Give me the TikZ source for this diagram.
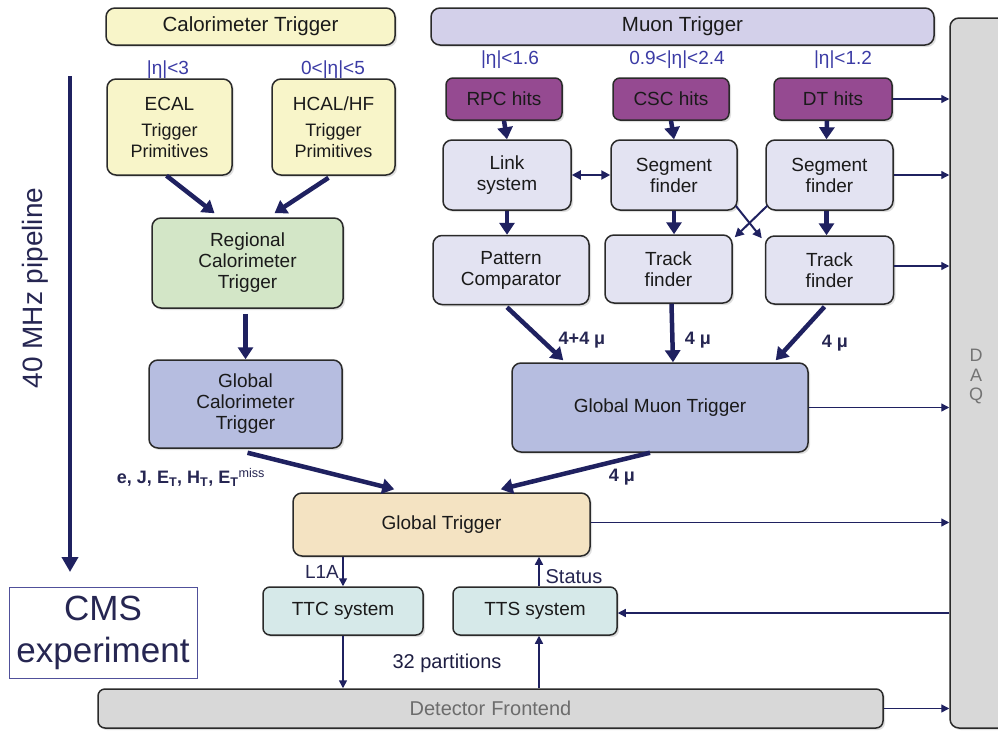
\documentclass[tikz,border=0pt]{standalone}
\usepackage{fontspec}
\setmainfont{Liberation Sans}
\usetikzlibrary{arrows.meta,shadows,calc}
\definecolor{calyel}{HTML}{F8F5C9}
\definecolor{muhdr}{HTML}{D3D0EA}
\definecolor{hitpur}{HTML}{954A91}
\definecolor{mulight}{HTML}{E3E3F2}
\definecolor{rctgreen}{HTML}{D3E6C7}
\definecolor{globblue}{HTML}{B6BDE0}
\definecolor{gtorange}{HTML}{F4E3C2}
\definecolor{ttccyan}{HTML}{D6E9E9}
\definecolor{daqgray}{HTML}{D8D8D8}
\definecolor{arrowc}{HTML}{1F2160}
\definecolor{etablue}{HTML}{3B3BA5}
\definecolor{labnavy}{HTML}{262652}
\definecolor{boxborder}{HTML}{2A2A2A}
\definecolor{txtdark}{HTML}{1A1A1A}
\newcommand\fsbox{\fontsize{19}{21}\selectfont}
\newcommand\fstp{\fontsize{18}{20.5}\selectfont}
\begin{document}
\begin{tikzpicture}[x=1pt,y=-1pt,
  box/.style={draw=boxborder, line width=1.5pt, rounded corners=9pt, align=center,
    inner sep=0pt, font=\fsbox, text=txtdark,
    drop shadow={shadow xshift=2pt, shadow yshift=-2pt, opacity=0.25}},
  fat/.style={-{Triangle[length=12pt,width=15pt]}, line width=4.5pt, draw=arrowc},
  thin/.style={-{Triangle[length=8pt,width=8pt]}, line width=1.3pt, draw=arrowc},
  mid/.style={-{Triangle[length=9pt,width=9pt]}, line width=2pt, draw=arrowc},
  etalbl/.style={text=etablue, font=\fontsize{19}{21}\selectfont},
  mulbl/.style={text=labnavy, font=\bfseries\fontsize{18}{20}\selectfont},
  plain/.style={text=labnavy, font=\fontsize{19}{21}\selectfont}
]
\useasboundingbox (0,0) rectangle (998,731);
\fill[white] (0,0) rectangle (998,731);

% headers
\node[box, fill=calyel, minimum width=289pt, minimum height=37pt, font=\fontsize{20.5}{22}\selectfont] (calhdr) at (250.5,26.5) {Calorimeter Trigger};
\node[box, fill=muhdr, minimum width=503pt, minimum height=37pt, font=\fontsize{20.5}{22}\selectfont] (muhdr) at (682.5,26.5) {Muon Trigger};

% DAQ
\node[box, fill=daqgray, minimum width=62pt, minimum height=710pt] (daq) at (981,373) {};
\node[text=gray!90!black, align=center, font=\fontsize{18}{19.5}\selectfont] (daqlbl) at (976,377) {D\\A\\Q};

% eta labels
\node[etalbl] (eta1) at (168,70) {|η|<3};
\node[etalbl] (eta2) at (333,70) {0<|η|<5};
\node[etalbl] (eta3) at (510,60) {|η|<1.6};
\node[etalbl] (eta4) at (677,60) {0.9<|η|<2.4};
\node[etalbl] (eta5) at (843,60) {|η|<1.2};

% calorimeter
\node[box, fill=calyel, minimum width=125pt, minimum height=96pt] (ecal) at (169.5,127)
  {ECAL\\[5pt]\fstp Trigger\\\fstp Primitives};
\node[box, fill=calyel, minimum width=123pt, minimum height=96pt] (hcal) at (333.5,127)
  {HCAL/HF\\[5pt]\fstp Trigger\\\fstp Primitives};
\node[box, fill=rctgreen, minimum width=191pt, minimum height=90pt] (rct) at (247.5,263)
  {Regional\\Calorimeter\\Trigger};
\node[box, fill=globblue, minimum width=193pt, minimum height=88pt] (gct) at (245.5,404)
  {Global\\Calorimeter\\Trigger};

% muon
\node[box, fill=hitpur, minimum width=116pt, minimum height=42pt, rounded corners=7pt] (rpc) at (504,99) {RPC hits};
\node[box, fill=hitpur, minimum width=116pt, minimum height=42pt, rounded corners=7pt] (csc) at (671,99) {CSC hits};
\node[box, fill=hitpur, minimum width=118pt, minimum height=42pt, rounded corners=7pt] (dt) at (833,99) {DT hits};
\node[box, fill=mulight, minimum width=128pt, minimum height=70pt] (link) at (507,175) {Link\\system};
\node[box, fill=mulight, minimum width=126pt, minimum height=70pt] (sf1) at (674,175) {Segment\\finder};
\node[box, fill=mulight, minimum width=127pt, minimum height=70pt] (sf2) at (829.5,175) {Segment\\finder};
\node[box, fill=mulight, minimum width=156pt, minimum height=69pt] (pc) at (511,270) {Pattern\\Comparator};
\node[box, fill=mulight, minimum width=127pt, minimum height=68pt] (tf1) at (668.5,269) {Track\\finder};
\node[box, fill=mulight, minimum width=128pt, minimum height=68pt] (tf2) at (829.5,270) {Track\\finder};
\node[box, fill=globblue, minimum width=296pt, minimum height=89pt] (gmt) at (660,407.5) {Global Muon Trigger};

% global trigger and below
\node[box, fill=gtorange, minimum width=297pt, minimum height=63pt] (gt) at (441.5,524.5) {Global Trigger};
\node[box, fill=ttccyan, minimum width=160pt, minimum height=48pt, rounded corners=7pt] (ttc) at (343,611) {TTC system};
\node[box, fill=ttccyan, minimum width=164pt, minimum height=48pt, rounded corners=7pt] (tts) at (535,611) {TTS system};
\node[box, fill=daqgray, minimum width=785pt, minimum height=39pt, rounded corners=7pt, text=gray!85!black, font=\fontsize{20}{22}\selectfont] (fe) at (490.5,708.5) {Detector\hspace{6pt}Frontend};

% CMS box
\node[draw=etablue!70!gray, line width=1pt, minimum width=188pt, minimum height=91pt, align=center, inner sep=0pt,
  text=labnavy, font=\fontsize{35}{42}\selectfont] (cms) at (103,632.5) {CMS\\experiment};

% pipeline
\coordinate (pipetop) at (70,76);
\coordinate (pipebot) at (70,572);
\draw[line width=4.5pt, draw=arrowc, -{Triangle[length=15pt,width=16pt]}] (pipetop) -- (pipebot);
\node[rotate=90, text=labnavy, font=\fontsize{28}{30}\selectfont] (pipelbl) at (35,288) {40 MHz pipeline};

% calorimeter arrows
\draw[fat] ($(ecal.south)+(-3,0)$) -- ($(rct.north)+(-33,-4)$);
\draw[fat] ($(hcal.south)+(-5,2)$) -- ($(rct.north)+(27,-4)$);
\draw[fat] ($(rct.south)+(-2,5)$) -- (gct.north);
\draw[fat] ($(gct.south)+(2,4)$) -- ($(gt.north west)+(102,-3)$);

% muon arrows
\draw[fat] (rpc.south) -- (link.north);
\draw[fat] (csc.south) -- (sf1.north);
\draw[fat] ($(dt.south)+(-6,0)$) -- ($(sf2.north)+(-3,0)$);
\draw[fat] (link.south) -- (link.south |- pc.north);
\draw[fat] (sf1.south) -- (sf1.south |- tf1.north);
\draw[fat] ($(sf2.south)+(-3,0)$) -- ($(tf2.north)+(-3,0)$);
\draw[mid, {Triangle[length=9pt,width=9pt]}-{Triangle[length=9pt,width=9pt]}] (link.east) -- (sf1.west);
\draw[mid] ($(sf1.south east)+(-2,-5)$) -- ($(tf2.north west)+(-3,3)$);
\draw[mid] ($(sf2.south west)+(2,-5)$) -- ($(tf1.north east)+(2,3)$);

\draw[fat] ($(pc.south)+(-4,2)$) -- ($(gmt.north west)+(52,-2)$);
\draw[fat] ($(tf1.south)+(3,0)$) -- ($(gmt.north)+(13,0)$);
\draw[fat] ($(tf2.south)+(-5,2)$) -- ($(gmt.north east)+(-33,-2)$);
\draw[fat] ($(gmt.south)+(-10,0)$) -- ($(gt.north east)+(-90,-3)$);

\node[mulbl] (m1) at (582,340) {4+4 μ};
\node[mulbl] (m2) at (698,340) {4 μ};
\node[mulbl] (m3) at (835,343) {4 μ};
\node[mulbl] (m4) at (622,477) {4 μ};

\node[text=labnavy, font=\bfseries\fontsize{18}{20}\selectfont] (caloout) at (191,477)
  {e, J, E\textsubscript{T}, H\textsubscript{T}, E\textsubscript{T}\textsuperscript{\mdseries miss}};

% DAQ arrows
\draw[thin] (dt.east) -- (dt.east -| daq.west);
\draw[thin] (sf2.east) -- (sf2.east -| daq.west);
\draw[thin] ($(tf2.east)+(0,-4)$) -- ($(tf2.east -| daq.west)+(0,-4)$);
\draw[thin] (gmt.east) -- (gmt.east -| daq.west);
\draw[thin] ($(gt.east)+(0,-2)$) -- ($(gt.east -| daq.west)+(0,-2)$);
\draw[thin] ($(tts.east -| daq.west)+(0,2)$) -- ($(tts.east)+(0,2)$);
\draw[thin] (fe.east) -- (fe.east -| daq.west);

% trigger control
\draw[thin, line width=1.6pt] (ttc.north |- gt.south) -- (ttc.north);
\draw[thin, line width=1.6pt] ($(tts.north)+(4,0)$) -- ($(tts.north |- gt.south)+(4,0)$);
\draw[thin, line width=1.6pt] (ttc.south) -- (ttc.south |- fe.north);
\draw[thin, line width=1.6pt] ($(tts.south |- fe.north)+(4,0)$) -- ($(tts.south)+(4,0)$);
\node[plain] (l1a) at (322,572) {L1A};
\node[plain, font=\fontsize{20}{22}\selectfont] (status) at (574,577) {Status};
\node[text=labnavy!80!black, font=\fontsize{20}{22}\selectfont] (parts) at (447,663) {32 partitions};
\end{tikzpicture}
\end{document}
